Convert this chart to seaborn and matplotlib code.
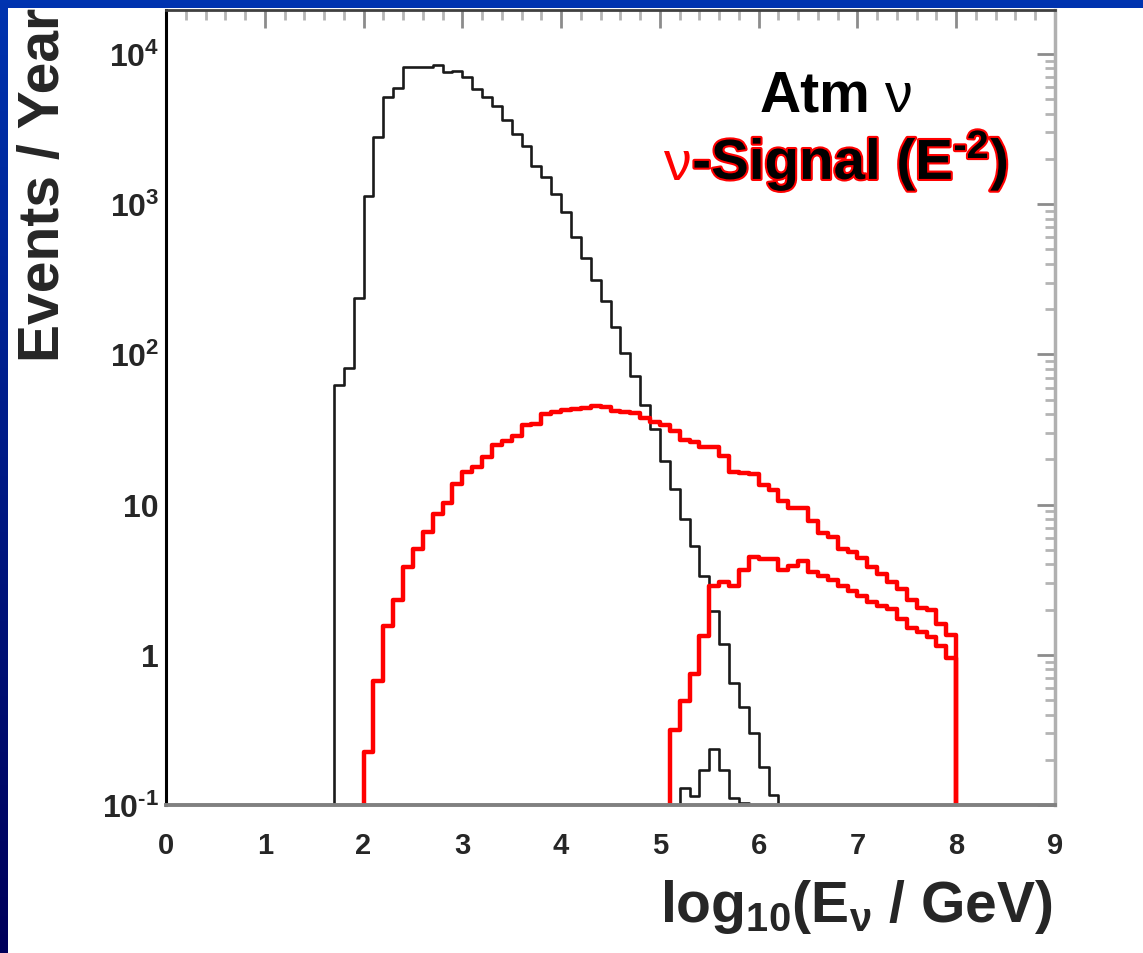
import numpy as np
import pandas as pd
import matplotlib
matplotlib.use("Agg")
import matplotlib.pyplot as plt
import matplotlib.patheffects as pe
from matplotlib.patches import Rectangle
from matplotlib.colors import LinearSegmentedColormap
from matplotlib.ticker import FixedLocator, FixedFormatter, LogLocator, MultipleLocator, NullFormatter
import seaborn as sns

# histogram binning in log10(E / GeV)
bin_width = 0.1
x_min, x_max = 0.0, 9.0

# atmospheric neutrinos (events / year per bin), first filled bin at 1.7
atm_start = 1.7
atm_counts = [62.5, 81, 236, 1140, 2790, 5200, 5940, 8150, 8150, 8150,
              8450, 7550, 7740, 7060, 5850, 5150, 4530, 3640, 2930, 2450,
              1800, 1520, 1170, 883, 608, 440, 313, 228, 151, 102,
              71.4, 46.0, 31.8, 19.4, 12.7, 8.0, 5.33, 3.37, 1.97, 1.18,
              0.649, 0.447, 0.301, 0.178, 0.117]

# atmospheric neutrinos after cuts
atm_cut_start = 5.2
atm_cut_counts = [0.129, 0.115, 0.172, 0.236, 0.172, 0.112, 0.103]

# E^-2 signal
sig_start = 2.0
sig_counts = [0.224, 0.673, 1.56, 2.33, 3.83, 5.06, 6.6, 8.66, 10.2, 13.7,
              16.4, 17.7, 20.6, 24.9, 26.6, 28.8, 33.9, 34.4, 40.1, 41.6,
              42.9, 43.3, 44.0, 45.1, 44.4, 42.0, 41.3, 40.7, 37.5, 35.5,
              33.9, 31.1, 27.0, 26.0, 24.2, 24.0, 21.2, 16.5, 16.3, 16.0,
              13.6, 12.5, 10.6, 9.5, 9.5, 7.8, 6.5, 6.1, 5.06, 4.8,
              4.4, 3.85, 3.45, 3.07, 2.76, 2.33, 2.05, 2.0, 1.61, 1.36]

# E^-2 signal after cuts
sig_cut_start = 5.1
sig_cut_counts = [0.317, 0.495, 0.745, 1.34, 2.86, 3.04, 2.86, 3.65, 4.5, 4.35,
                  4.35, 3.69, 3.92, 4.2, 3.54, 3.37, 3.15, 2.86, 2.65, 2.45,
                  2.24, 2.12, 2.02, 1.74, 1.5, 1.41, 1.32, 1.15, 0.95]

y_ticks = [0.1, 1, 10, 100, 1000, 10000]
y_tick_labels = [r"$10^{\text{-}1}$", "1", "10", r"$10^{2}$", r"$10^{3}$", r"$10^{4}$"]
x_ticks = [0, 1, 2, 3, 4, 5, 6, 7, 8, 9]

edges = [round(x_min + i * bin_width, 2) for i in range(91)]
centers = [e + bin_width / 2 for e in edges[:-1]]


def full_range(start, counts):
    w = np.zeros(len(centers))
    i0 = int(round((start - x_min) / bin_width))
    w[i0:i0 + len(counts)] = counts
    return pd.DataFrame({'logE': centers, 'rate': w})


sns.set_style("white")
plt.rcParams['font.family'] = ['Liberation Sans', 'DejaVu Sans']
plt.rcParams['font.weight'] = 'bold'
plt.rcParams['mathtext.fontset'] = 'custom'
plt.rcParams['mathtext.rm'] = 'Liberation Sans:bold'
plt.rcParams['mathtext.it'] = 'Liberation Sans:bold'
plt.rcParams['mathtext.bf'] = 'Liberation Sans:bold'
plt.rcParams['mathtext.sf'] = 'Liberation Sans:bold'

W, H = 1143, 954
fig = plt.figure(figsize=(W / 100, H / 100), dpi=100)

# slide background: blue gradient strip on the left and top
bg = fig.add_axes([0, 0, 1, 1], zorder=-10)
grad = np.linspace(0, 1, 256).reshape(-1, 1)
cmap = LinearSegmentedColormap.from_list('slide', ['#00005a', '#0034b0'])
bg.imshow(grad, cmap=cmap, aspect='auto', extent=[0, 1, 0, 1], origin='lower')
bg.add_patch(Rectangle((8 / W, 0), 1, 1 - 9 / H, color='white', lw=0))
bg.set_xlim(0, 1)
bg.set_ylim(0, 1)
bg.set_axis_off()

ax = fig.add_axes([166 / W, 1 - 806 / H, 889 / W, 795 / H])

hists = [(atm_start, atm_counts, '#1a1a1a', 1.9),
         (atm_cut_start, atm_cut_counts, '#1a1a1a', 1.9),
         (sig_start, sig_counts, '#ff0000', 3.2),
         (sig_cut_start, sig_cut_counts, '#ff0000', 3.2)]
for start, counts, col, lw in hists:
    sns.histplot(data=full_range(start, counts), x='logE', weights='rate', bins=edges,
                 element='step', fill=False, color=col, linewidth=lw, ax=ax)

ax.set_yscale('log')
ax.set_xlim(x_min, x_max)
ax.set_ylim(0.1, 1.96e4)
ax.set_xlabel('')
ax.set_ylabel('')

ax.yaxis.set_major_locator(FixedLocator(y_ticks))
ax.yaxis.set_major_formatter(FixedFormatter(y_tick_labels))
ax.yaxis.set_minor_locator(LogLocator(base=10, subs=range(2, 10)))
ax.yaxis.set_minor_formatter(NullFormatter())
ax.xaxis.set_major_locator(FixedLocator(x_ticks))
ax.xaxis.set_minor_locator(MultipleLocator(0.2))

ax.tick_params(which='both', direction='in', top=True, right=True)
ax.tick_params(which='major', length=13, width=2, color='#8c8c8c')
ax.tick_params(which='minor', length=7, width=2, color='#b4b4b4')
ax.tick_params(axis='x', labelsize=21, pad=19)
ax.tick_params(axis='y', labelsize=23, pad=5)

ax.spines['left'].set_color('black')
ax.spines['left'].set_linewidth(2.2)
ax.spines['bottom'].set_color('#808080')
ax.spines['bottom'].set_linewidth(2.8)
ax.spines['top'].set_color('#404040')
ax.spines['top'].set_linewidth(2.0)
ax.spines['right'].set_color('#b0b0b0')
ax.spines['right'].set_linewidth(2.5)

# axis titles
fig.text(44 / W, 1 - 8 / H, "Events / Year", rotation=90, ha='center', va='top',
         fontsize=41, fontweight='bold')
fig.text(1053 / W, 1 - 922 / H, r"log$_{10}$(E$_{\nu}$ / GeV)", ha='right',
         va='baseline', fontsize=41, fontweight='bold')

# legend text
fig.text(760 / W, 1 - 112 / H, "Atm", ha='left', va='baseline', fontsize=41,
         fontweight='bold', color='black')
fig.text(884 / W, 1 - 112 / H, "\u03bd", ha='left', va='baseline', fontsize=40,
         fontweight='normal', color='black')
fig.text(663 / W, 1 - 180 / H, "\u03bd", ha='left', va='baseline', fontsize=40,
         fontweight='normal', color='#ff0000')
fig.text(1008 / W, 1 - 180 / H, r"-Signal (E$^{\text{-}2}$)", ha='right', va='baseline',
         fontsize=40.7, fontweight='bold', color='black',
         path_effects=[pe.withStroke(linewidth=3, foreground='#ff0000')])

fig.savefig('out.png', dpi=100)
